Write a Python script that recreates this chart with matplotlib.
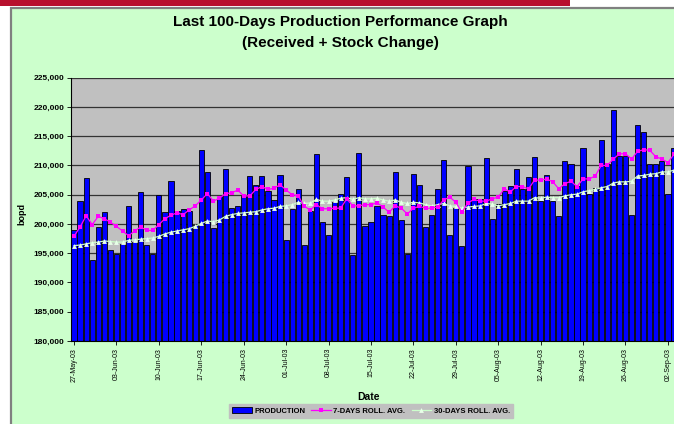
import matplotlib
matplotlib.use('Agg')
import matplotlib.pyplot as plt
from matplotlib.patches import Rectangle, Patch
from matplotlib.lines import Line2D
from matplotlib.ticker import FuncFormatter, MultipleLocator

production = [198900, 204000, 207800, 193800, 199400, 202000, 195600, 194900, 196500, 203000,
              197000, 205500, 196400, 194800, 204900, 202000, 207400, 202200, 202500, 202300,
              199800, 212600, 208900, 199300, 204800, 209400, 202700, 203000, 204800, 208200,
              206700, 208200, 205700, 204100, 208300, 197300, 202600, 205900, 196400, 202200,
              212000, 200300, 198200, 203800, 205100, 208000, 194700, 212200, 199600, 200400,
              203100, 201600, 201300, 208800, 200600, 194900, 208600, 206600, 199500, 201600,
              206000, 211000, 198100, 202800, 196300, 209900, 204200, 204200, 211300, 200900,
              203400, 205600, 206500, 209400, 205900, 208000, 211500, 203900, 208400, 203900,
              201300, 210800, 210200, 206500, 212900, 205100, 206200, 214300, 210200, 219400,
              211600, 211600, 201600, 216900, 215800, 210200, 210200, 210700, 205100, 213000]

avg7 = [197900, 199500, 201400, 199900, 201300, 200900, 200300, 199600, 198800, 198000,
        198800, 199500, 198900, 198900, 199900, 200900, 201500, 201900, 201600, 202400,
        203100, 204100, 205200, 203900, 204400, 205200, 205300, 205800, 204800, 204800,
        205900, 206400, 205900, 206100, 206700, 205800, 205000, 204800, 203000, 202400,
        203300, 202600, 202600, 202700, 202700, 204300, 203100, 203100, 203300, 203300,
        203600, 202900, 202000, 203100, 202700, 201700, 202700, 203000, 202700, 202700,
        202900, 204100, 204600, 203700, 202000, 203600, 204200, 203900, 203900, 204300,
        204600, 206000, 205500, 206400, 206400, 206000, 207500, 207500, 207700, 207200,
        206000, 206900, 207300, 206400, 207700, 207700, 208200, 210000, 210000, 211100,
        212000, 212000, 211100, 212400, 212700, 212600, 211500, 211100, 210500, 211900]

avg30 = [196300, 196400, 196600, 196800, 196900, 197100, 197000, 196900, 196900, 197200,
         197300, 197400, 197500, 197600, 197900, 198300, 198600, 198800, 199000, 199200,
         199600, 200100, 200500, 200400, 200700, 201300, 201600, 201800, 201900, 202000,
         202100, 202400, 202600, 202700, 203000, 203100, 203300, 203700, 203500, 203600,
         204200, 203900, 203900, 204100, 204400, 204500, 204200, 204500, 204300, 204300,
         204400, 204100, 203900, 204100, 203700, 203500, 203700, 203600, 203300, 203100,
         203300, 203500, 203100, 203000, 202700, 202900, 203000, 203100, 203500, 203400,
         203100, 203300, 203500, 203900, 203900, 203900, 204500, 204400, 204600, 204500,
         204500, 204800, 205000, 205100, 205500, 205700, 205900, 206200, 206400, 207000,
         207200, 207200, 207300, 208200, 208300, 208500, 208600, 208900, 208900, 209200]

tick_labels = ['27-May-03', '03-Jun-03', '10-Jun-03', '17-Jun-03', '24-Jun-03',
               '01-Jul-03', '08-Jul-03', '15-Jul-03', '22-Jul-03', '29-Jul-03',
               '05-Aug-03', '12-Aug-03', '19-Aug-03', '26-Aug-03', '02-Sep-03']
tick_days = [0, 7, 14, 21, 28, 35, 42, 49, 56, 63, 70, 77, 84, 91, 98]

W, H = 674, 424
fig = plt.figure(figsize=(W / 100, H / 100), dpi=100)
fig.patch.set_facecolor('white')

# frame: red strip on top, green panel with grey border
fig.add_artist(Rectangle((0, 1 - 5.5 / H), 570 / W, 5.5 / H, transform=fig.transFigure,
                         facecolor='#B8102E', edgecolor='none', zorder=-3))
fig.add_artist(Rectangle((11 / W, -0.1), 1.2, 1.1 - 8 / H, transform=fig.transFigure,
                         facecolor='#CCFFCC', edgecolor='#808080', linewidth=1.6, zorder=-2))

ax = fig.add_axes([71 / W, 1 - 341 / H, 606 / W, (341 - 77.7) / H])
ax.set_facecolor('#C0C0C0')

x = list(range(len(production)))
ax.bar(x, production, width=0.86, color='#0000FF', edgecolor='black', linewidth=0.6, zorder=2)
ax.plot(x, avg7, color='#FF00FF', linewidth=0.9, marker='s', markersize=3.3,
        markeredgewidth=0, zorder=4)
ax.plot(x, avg30, color='#CCFFCC', linewidth=0.9, marker='^', markersize=3.5,
        markerfacecolor='#E8FFE8', markeredgewidth=0, zorder=3)

ax.set_xlim(-0.5, len(production) - 0.5)
ax.set_ylim(180000, 225000)
ax.yaxis.set_major_locator(MultipleLocator(5000))
ax.yaxis.set_major_formatter(FuncFormatter(lambda v, p: f'{int(v):,}'))
ax.grid(axis='y', color='#333333', linewidth=0.9, zorder=1)
ax.set_axisbelow(True)

ax.set_xticks(tick_days)
ax.set_xticklabels(tick_labels, rotation=90, fontsize=5, family='Liberation Sans')
ax.tick_params(axis='x', length=3, width=0.6, pad=2)
ax.tick_params(axis='y', length=3, width=0.6, pad=2, labelsize=6)
for lab in ax.get_yticklabels():
    lab.set_fontweight('bold')
    lab.set_family('Liberation Sans')

for s in ['top', 'right']:
    ax.spines[s].set_visible(False)
ax.spines['left'].set_linewidth(0.8)
ax.spines['bottom'].set_linewidth(0.8)

fig.text(340 / W, 1 - 22 / H, 'Last 100-Days Production Performance Graph', ha='center', va='center',
         fontsize=11, fontweight='bold', family='Liberation Sans')
fig.text(340 / W, 1 - 43 / H, '(Received + Stock Change)', ha='center', va='center',
         fontsize=11, fontweight='bold', family='Liberation Sans')
fig.text(22 / W, 1 - 214 / H, 'bopd', rotation=90, ha='center', va='center',
         fontsize=6.5, fontweight='bold', family='Liberation Sans')
fig.text(368 / W, 1 - 397 / H, 'Date', ha='center', va='center',
         fontsize=7.5, fontweight='bold', family='Liberation Sans')

handles = [Patch(facecolor='#0000FF', edgecolor='black', linewidth=0.6),
           Line2D([], [], color='#FF00FF', linewidth=0.9, marker='s', markersize=3.3, markeredgewidth=0),
           Line2D([], [], color='#CCFFCC', linewidth=0.9, marker='^', markersize=3.5,
                  markerfacecolor='#E8FFE8', markeredgewidth=0)]
labels = ['PRODUCTION', '7-DAYS ROLL. AVG.', '30-DAYS ROLL. AVG.']
leg = fig.legend(handles, labels, loc='center', bbox_to_anchor=(371 / W, 1 - 411 / H), ncol=3,
                 frameon=True, fancybox=False, facecolor='#C0C0C0', edgecolor='#C0C0C0',
                 framealpha=1, prop={'family': 'Liberation Sans', 'weight': 'bold', 'size': 5.5},
                 handlelength=2.6, handleheight=0.9, handletextpad=0.3, columnspacing=0.8,
                 borderpad=0.35, borderaxespad=0)

fig.savefig('out.png', dpi=100)
